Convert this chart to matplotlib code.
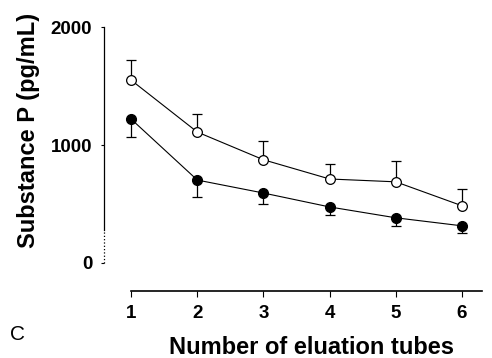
import matplotlib
matplotlib.use("Agg")
import matplotlib.pyplot as plt

# Number of eluation tubes
tubes = [1, 2, 3, 4, 5, 6]

# open circles (upper series), error bars drawn upward
open_mean = [1550, 1110, 875, 712, 688, 485]
open_err = [170, 150, 160, 125, 175, 145]

# filled circles (lower series), error bars drawn downward
filled_mean = [1220, 703, 593, 475, 383, 315]
filled_err = [150, 145, 95, 70, 70, 60]

y_ticks = [0, 1000, 2000]

plt.rcParams['font.family'] = ['Liberation Sans', 'DejaVu Sans']

fig = plt.figure(figsize=(4.92, 3.58), dpi=100)
ax = fig.add_axes([0.2114, 0.2654, 0.768, 0.659])

zeros = [0] * len(tubes)
ax.errorbar(tubes, open_mean, yerr=[zeros, open_err], fmt='none',
            ecolor='black', elinewidth=0.9, capsize=3.5, capthick=0.9, zorder=1)
ax.errorbar(tubes, filled_mean, yerr=[filled_err, zeros], fmt='none',
            ecolor='black', elinewidth=0.9, capsize=3.5, capthick=0.9, zorder=1)
ax.plot(tubes, open_mean, '-o', color='black', lw=0.8, ms=7,
        mfc='white', mec='black', mew=0.9, zorder=3)
ax.plot(tubes, filled_mean, '-o', color='black', lw=0.8, ms=7,
        mfc='black', mec='black', zorder=3)

ax.set_xlim(0.59, 6.3)
ax.set_ylim(0, 2000)

for side in ['top', 'right']:
    ax.spines[side].set_visible(False)
ax.spines['left'].set_bounds(280, 2000)
ax.spines['left'].set_linewidth(0.9)
ax.vlines(0.59, 0, 280, colors='black', linestyles=':', lw=0.9, clip_on=False)
ax.spines['bottom'].set_position(('outward', 20))
ax.spines['bottom'].set_bounds(1, 6.3)
ax.spines['bottom'].set_linewidth(1.2)

ax.set_yticks(y_ticks)
ax.set_xticks(tubes)
ax.tick_params(axis='y', direction='out', length=2.5, width=0.8, pad=6,
               labelsize=13.5)
ax.tick_params(axis='x', direction='out', length=4, width=0.8, pad=6,
               labelsize=13.5)
for lab in ax.get_xticklabels() + ax.get_yticklabels():
    lab.set_fontweight('bold')

ax.set_ylabel('Substance P (pg/mL)', fontsize=17, fontweight='bold', va='center')
ax.yaxis.set_label_coords(-0.2, 0.56)
ax.set_xlabel('Number of eluation tubes', fontsize=17, fontweight='bold',
              va='center')
ax.xaxis.set_label_coords(0.548, -0.36)
fig.text(0.02, 1 - 335 / 358, 'C', fontsize=15, ha='left', va='center')

fig.savefig('out.png', dpi=100)
